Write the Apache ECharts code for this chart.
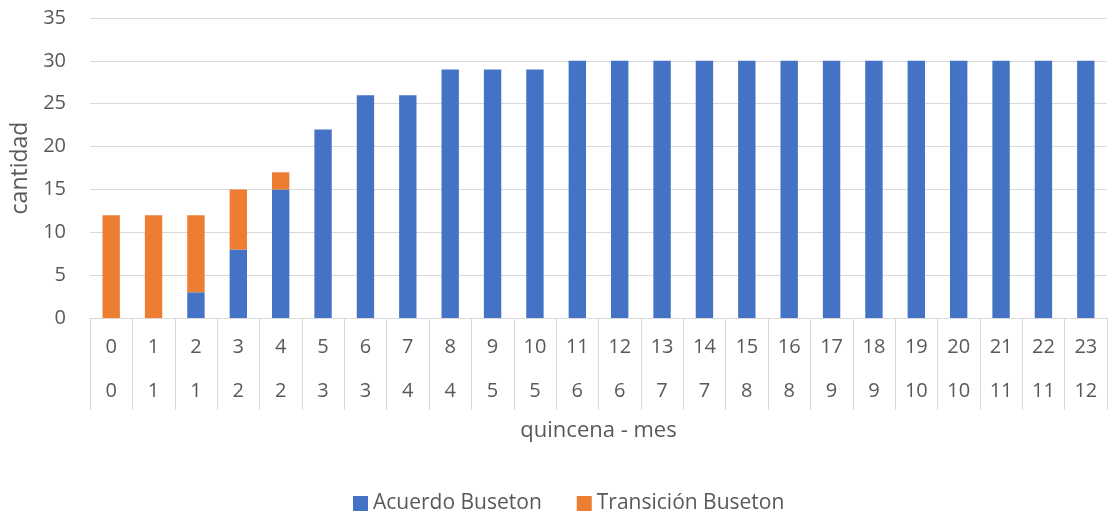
<!DOCTYPE html>
<html><head><meta charset="utf-8">
<script src="https://cdn.jsdelivr.net/npm/echarts@6/dist/echarts.min.js"></script>
<style>html,body{margin:0;padding:0;background:#fff}#c{width:1112px;height:514px}</style>
</head><body><div id="c"></div>
<script>
const quincena = ['0','1','2','3','4','5','6','7','8','9','10','11','12','13','14','15','16','17','18','19','20','21','22','23'];
const mes = ['0','1','1','2','2','3','3','4','4','5','5','6','6','7','7','8','8','9','9','10','10','11','11','12'];
const acuerdo = [0,0,3,8,15,22,26,26,29,29,29,30,30,30,30,30,30,30,30,30,30,30,30,30];
const transicion = [12,12,9,7,2,0,0,0,0,0,0,0,0,0,0,0,0,0,0,0,0,0,0,0];
const yTicks = {min:0, max:35, interval:5};

const FONT = '"Open Sans", "Liberation Sans", sans-serif';
const TXT = '#595959';
const chart = echarts.init(document.getElementById('c'));
chart.setOption({
  animation:false,
  textStyle:{fontFamily:FONT},
  grid:{left:90, right:5, top:18, bottom:196, containLabel:false},
  legend:{
    top:488, left:348, itemWidth:15, itemHeight:15, itemGap:35, icon:'rect',
    textStyle:{fontFamily:FONT, fontSize:21, color:TXT},
    data:['Acuerdo Buseton','Transición Buseton']
  },
  xAxis:[{
    type:'category', data:quincena, position:'bottom',
    name:'quincena - mes', nameLocation:'middle', nameGap:102,
    nameTextStyle:{fontFamily:FONT, fontSize:22, color:TXT},
    axisLine:{show:true, lineStyle:{color:'#d9d9d9', width:1}},
    axisTick:{show:true, interval:0, length:92, lineStyle:{color:'#d9d9d9', width:1}},
    axisLabel:{interval:0, margin:19, fontFamily:FONT, fontSize:20, color:TXT},
    splitLine:{show:false}
  },{
    type:'category', data:mes, position:'bottom', offset:44,
    axisLine:{show:false}, axisTick:{show:false},
    axisLabel:{interval:0, margin:19, fontFamily:FONT, fontSize:20, color:TXT},
    splitLine:{show:false}
  }],
  yAxis:{
    type:'value', min:yTicks.min, max:yTicks.max, interval:yTicks.interval,
    name:'cantidad', nameLocation:'middle', nameGap:56,
    nameTextStyle:{fontFamily:FONT, fontSize:23, color:TXT},
    axisLine:{show:false}, axisTick:{show:false},
    axisLabel:{margin:24, fontFamily:FONT, fontSize:20, color:TXT},
    splitLine:{lineStyle:{color:'#d9d9d9', width:1}}
  },
  series:[
    {name:'Acuerdo Buseton', type:'bar', stack:'s', data:acuerdo, barWidth:'41%', itemStyle:{color:'#4472C4'}, xAxisIndex:0},
    {name:'Transición Buseton', type:'bar', stack:'s', data:transicion, barWidth:'41%', itemStyle:{color:'#ED7D31'}, xAxisIndex:0}
  ]
});
</script></body></html>
